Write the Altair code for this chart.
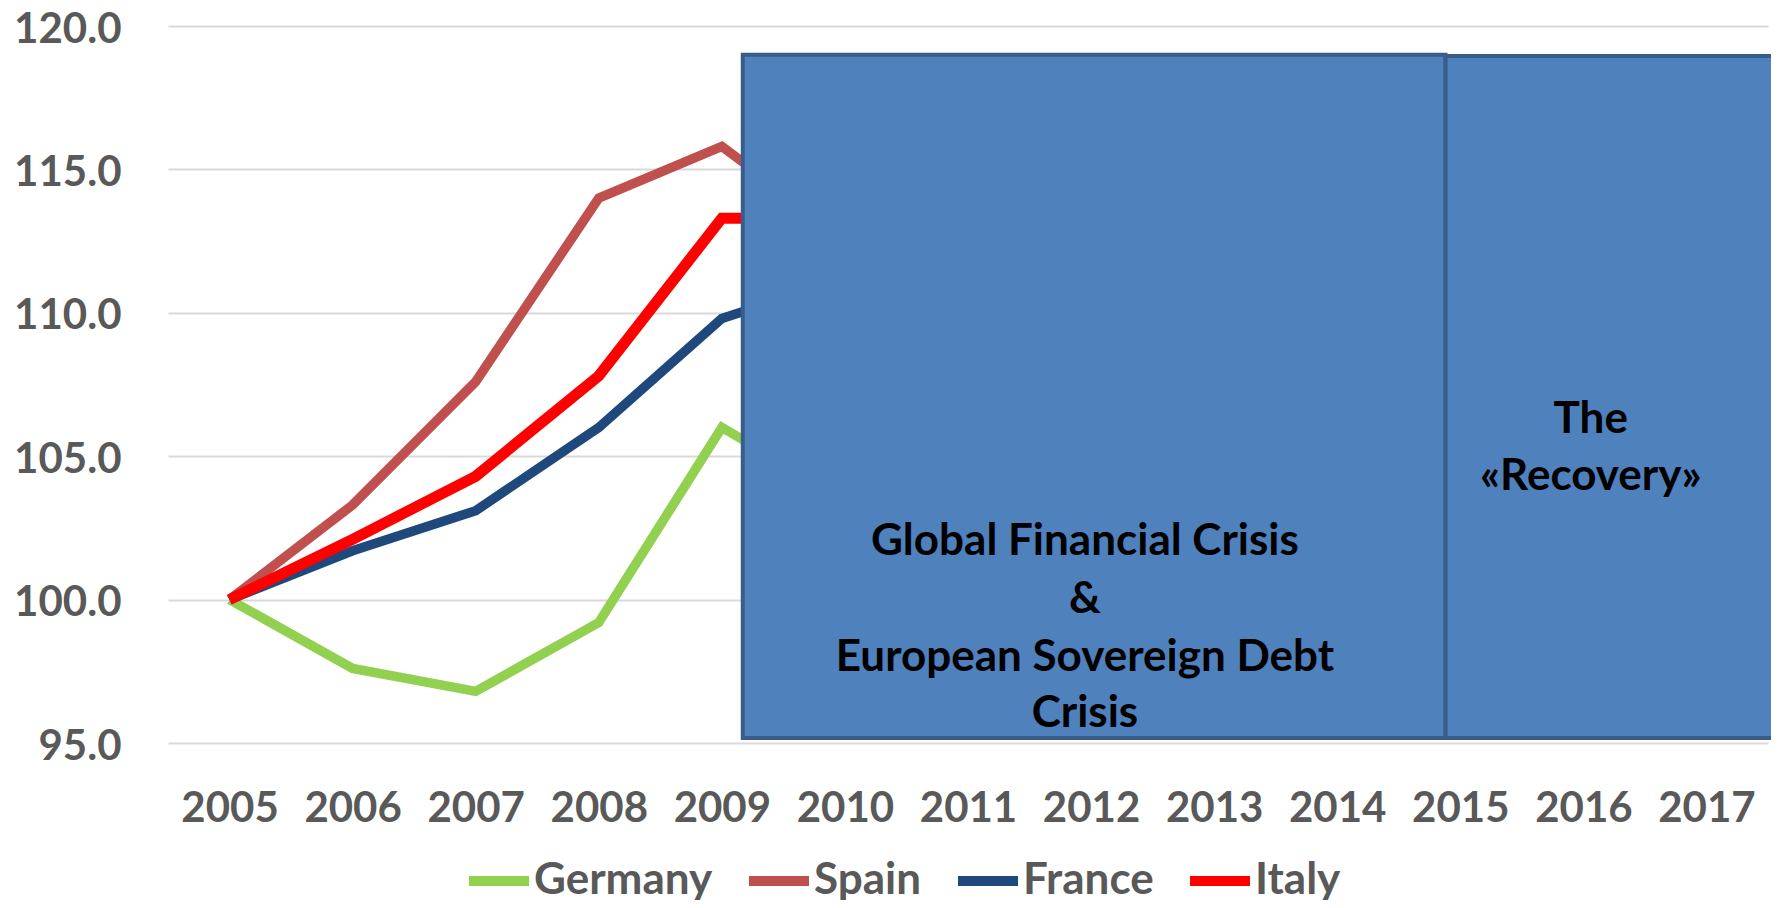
import altair as alt
import pandas as pd

years = [2005, 2006, 2007, 2008, 2009, 2010]
germany = [100.0, 97.6, 96.8, 99.2, 106.0, 103.5]
spain = [100.0, 103.3, 107.6, 114.0, 115.8, 112.6]
france = [100.0, 101.7, 103.1, 106.0, 109.8, 111.2]
italy = [100.0, 102.1, 104.3, 107.8, 113.3, 113.3]

countries = ["Germany", "Spain", "France", "Italy"]
colors = ["#92D050", "#C0504D", "#1F497D", "#FF0000"]
widths = [9.5, 9.5, 9.5, 11]

tick_years = list(range(2005, 2018))
y_ticks = [95, 100, 105, 110, 115, 120]

# shaded periods
box_start = [2009.17, 2014.88]
box_end = [2014.88, 2017.56]
box_top = [119.0, 118.95]
box_bottom = [95.17, 95.17]

# annotation lines
ann_text = ["Global Financial Crisis", "&", "European Sovereign Debt", "Crisis",
            "The", "«Recovery»"]
ann_x = [2011.95, 2011.95, 2011.95, 2011.95, 2016.06, 2016.06]
ann_y = [101.56, 99.53, 97.51, 95.56, 105.81, 103.82]

rows = []
for c, vals in zip(countries, [germany, spain, france, italy]):
    for yr, v in zip(years, vals):
        rows.append({"year": yr, "value": v, "country": c})
df = pd.DataFrame(rows)

boxes = pd.DataFrame({"x": box_start, "x2": box_end, "y": box_top, "y2": box_bottom})
ann = pd.DataFrame({"text": ann_text, "x": ann_x, "y": ann_y})

FONT = "Lato"
GREY = "#595959"

xscale = alt.Scale(domain=[2004.5, 2017.5], nice=False, zero=False)
yscale = alt.Scale(domain=[95, 120], nice=False, zero=False)

xaxis = alt.Axis(values=tick_years, format="d", title=None, grid=False, ticks=False,
                 domain=False, labelFont=FONT, labelFontSize=42, labelFontWeight="bold",
                 labelColor=GREY, labelBaseline="alphabetic", labelPadding=78,
                 labelFlush=False, labelOverlap=False)
yaxis = alt.Axis(values=y_ticks, format=".1f", title=None, grid=True, gridColor="#D9D9D9",
                 gridWidth=2, ticks=False, domain=False, labelFont=FONT, labelFontSize=42,
                 labelFontWeight="bold", labelColor=GREY, labelBaseline="alphabetic",
                 labelOffset=16, labelPadding=47)

color = alt.Color("country:N",
                  scale=alt.Scale(domain=countries, range=colors),
                  legend=alt.Legend(title=None, orient="none", direction="horizontal",
                                    legendX=296, legendY=820, symbolType="stroke",
                                    symbolSize=3600, symbolStrokeWidth=10,
                                    labelFont=FONT, labelFontSize=44,
                                    labelFontWeight="bold", labelColor=GREY,
                                    labelOffset=0, columnPadding=16, padding=0,
                                    labelLimit=0))

line_layers = []
for c, w in zip(countries, widths):
    line_layers.append(
        alt.Chart(df).transform_filter(alt.datum.country == c)
        .mark_line(strokeJoin="miter", strokeCap="butt", strokeWidth=w)
        .encode(
            x=alt.X("year:Q", scale=xscale, axis=xaxis),
            y=alt.Y("value:Q", scale=yscale, axis=yaxis),
            color=color,
        )
    )

rects = alt.Chart(boxes).mark_rect(fill="#4F81BD", stroke="#385D8A", strokeWidth=4).encode(
    x=alt.X("x:Q", scale=xscale),
    x2="x2:Q",
    y=alt.Y("y:Q", scale=yscale),
    y2="y2:Q",
)

texts = alt.Chart(ann).mark_text(font=FONT, fontSize=44, fontWeight="bold", color="black",
                                 align="center", baseline="alphabetic").encode(
    x=alt.X("x:Q", scale=xscale),
    y=alt.Y("y:Q", scale=yscale),
    text="text:N",
)

chart = alt.layer(*line_layers, rects, texts).properties(
    width=1600, height=717,
    padding={"left": 160, "top": 18, "right": 3, "bottom": 157},
    autosize=alt.AutoSizeParams(type="none"),
).configure_view(stroke=None)

chart.save("out.html", embed_options={"renderer": "svg", "actions": False})
